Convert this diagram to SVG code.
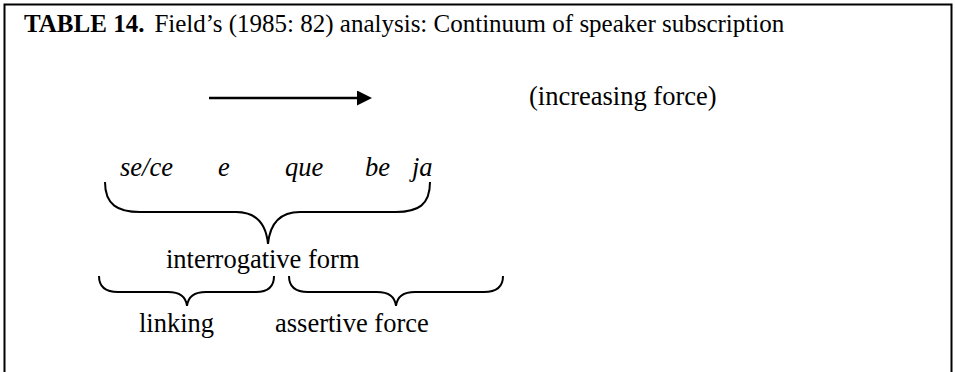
<svg xmlns="http://www.w3.org/2000/svg" width="955" height="372" viewBox="0 0 955 372">
<style>
  text { font-family: "Liberation Serif", "Times New Roman", serif; font-size: 26.5px; fill: #000; }
  .t { font-size: 25px; }
  .b { font-weight: bold; }
  .i { font-style: italic; }
  .brace { fill: none; stroke: #000; stroke-width: 2; }
  .frame { fill: none; stroke: #000; stroke-width: 2; }
</style>
<defs>
  <marker id="ah" markerWidth="15" markerHeight="15" refX="0" refY="7.5" orient="auto" markerUnits="userSpaceOnUse">
    <path d="M0,0 L15,7.5 L0,15 Z" fill="#000"/>
  </marker>
</defs>
<rect width="955" height="372" fill="#fff"/>
<path class="frame" d="M4.5,372 V4.5 H951.5 V372"/>
<g id="title">
  <text class="t" x="24" y="32"><tspan class="b">TABLE 14.</tspan><tspan dx="10">Field’s (1985: 82) analysis: Continuum of speaker subscription</tspan></text>
</g>
<g id="connectors">
  <line x1="209" y1="98" x2="357" y2="98" stroke="#000" stroke-width="2.5" marker-end="url(#ah)"/>
  <path id="brace-main" class="brace" d="M105,182 C105,205 118,212 140,212 L236,212 C256,212 266,223 268,244 C270,223 280,212 300,212 L396,212 C418,212 430,205 430,182"/>
  <path id="brace-linking" class="brace" d="M99,276 C99,287 106,292 118,292 L168,292 C180,292 186,297 187,306 C188,297 194,292 206,292 L256,292 C268,292 274,287 274,276"/>
  <path id="brace-assertive" class="brace" d="M289,276 C289,287 296,292 308,292 L377,292 C389,292 395,297 396,306 C397,297 403,292 415,292 L484,292 C496,292 503,287 503,276"/>
</g>
<g id="increasing-force"><text x="529" y="105">(increasing force)</text></g>
<g id="words">
  <text class="i" x="120" y="176">se/ce</text>
  <text class="i" x="218" y="176">e</text>
  <text class="i" x="285" y="176">que</text>
  <text class="i" x="365" y="176">be</text>
  <text class="i" x="412" y="176">ja</text>
</g>
<g id="interrogative-form"><text x="166" y="268">interrogative form</text></g>
<g id="linking"><text x="139" y="332">linking</text></g>
<g id="assertive-force"><text x="275" y="332">assertive force</text></g>
</svg>
